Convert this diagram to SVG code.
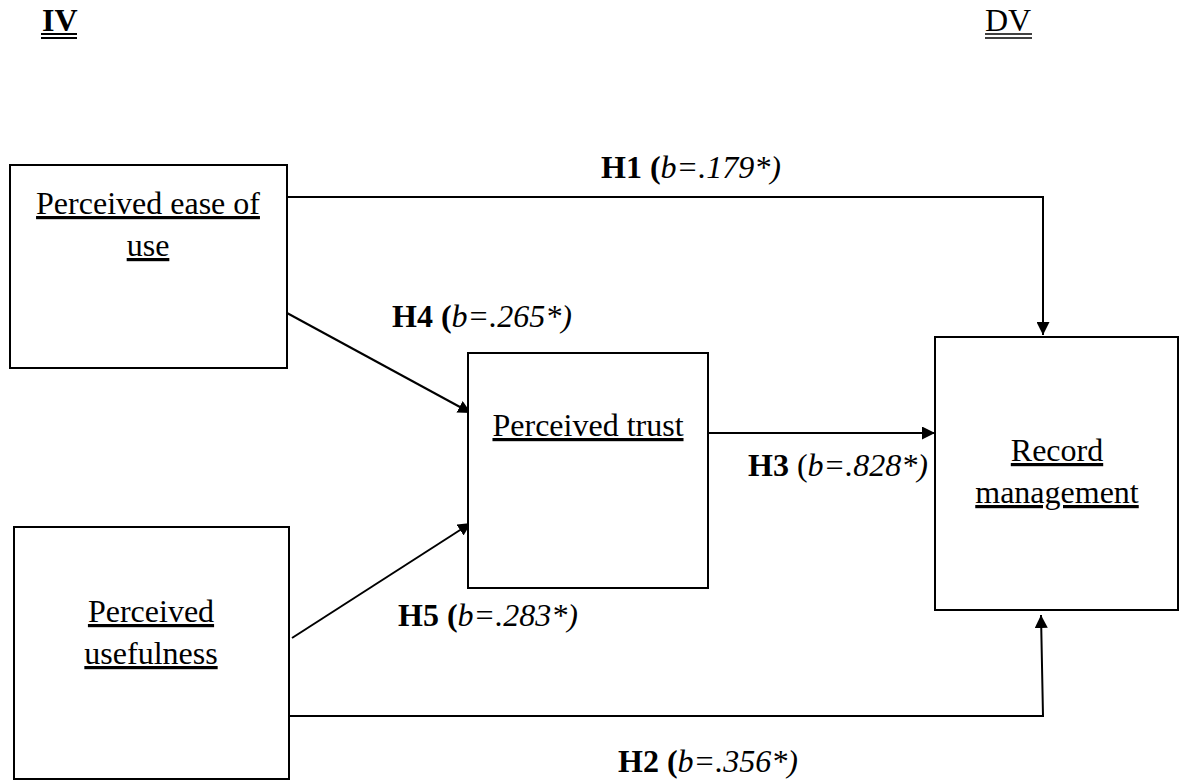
<svg xmlns="http://www.w3.org/2000/svg" width="1186" height="782" viewBox="0 0 1186 782">
<style>
text{font-family:"Liberation Serif","Times New Roman",serif;font-size:32px;fill:#000}
.c{text-anchor:middle;text-decoration:underline}
.b{font-weight:bold}
.i{font-style:italic}
.box{fill:#fff;stroke:#000;stroke-width:2}
.ln{fill:none;stroke:#000;stroke-width:2}
</style>
<defs>
<marker id="ah" viewBox="0 0 10 10" refX="10" refY="5" markerWidth="6.5" markerHeight="6.5" markerUnits="strokeWidth" orient="auto">
<path d="M0,0 L10,5 L0,10 z" fill="#000"/>
</marker>
</defs>
<rect width="1186" height="782" fill="#fff"/>
<g id="headers">
<text x="42" y="31" class="b">IV</text>
<line x1="41" y1="34" x2="77" y2="34" stroke="#000" stroke-width="2"/>
<line x1="41" y1="38" x2="77" y2="38" stroke="#000" stroke-width="2"/>
<text x="985" y="31">DV</text>
<line x1="985" y1="34" x2="1032" y2="34" stroke="#000" stroke-width="1.3"/>
<line x1="985" y1="38" x2="1032" y2="38" stroke="#000" stroke-width="1.3"/>
</g>
<g id="connectors">
<polyline class="ln" points="287,197 1043,197 1043,335" marker-end="url(#ah)"/>
<line class="ln" x1="287" y1="313" x2="471" y2="413" marker-end="url(#ah)"/>
<line class="ln" x1="292" y1="638" x2="471" y2="523" marker-end="url(#ah)"/>
<line class="ln" x1="708" y1="433" x2="935" y2="433" marker-end="url(#ah)"/>
<polyline class="ln" points="287,716 1043,716 1041,615" marker-end="url(#ah)"/>
</g>
<g id="n1">
<rect class="box" x="10" y="165" width="277" height="203"/>
<text class="c" x="148" y="214">Perceived ease of</text>
<text class="c" x="148" y="256">use</text>
</g>
<g id="n2">
<rect class="box" x="14" y="527" width="275" height="252"/>
<text class="c" x="151" y="622">Perceived</text>
<text class="c" x="151" y="664">usefulness</text>
</g>
<g id="n3">
<rect class="box" x="468" y="353" width="240" height="235"/>
<text class="c" x="588" y="436">Perceived trust</text>
</g>
<g id="n4">
<rect class="box" x="935" y="337" width="243" height="273"/>
<text class="c" x="1057" y="461">Record</text>
<text class="c" x="1057" y="503">management</text>
</g>
<g id="labels">
<text x="601" y="178"><tspan class="b">H1 (</tspan><tspan class="i">b=.179*)</tspan></text>
<text x="392" y="327"><tspan class="b">H4 (</tspan><tspan class="i">b=.265*)</tspan></text>
<text x="748" y="476"><tspan class="b">H3</tspan> (<tspan class="i">b=.828*)</tspan></text>
<text x="398" y="626"><tspan class="b">H5 (</tspan><tspan class="i">b=.283*)</tspan></text>
<text x="618" y="772"><tspan class="b">H2 (</tspan><tspan class="i">b=.356*)</tspan></text>
</g>
</svg>
